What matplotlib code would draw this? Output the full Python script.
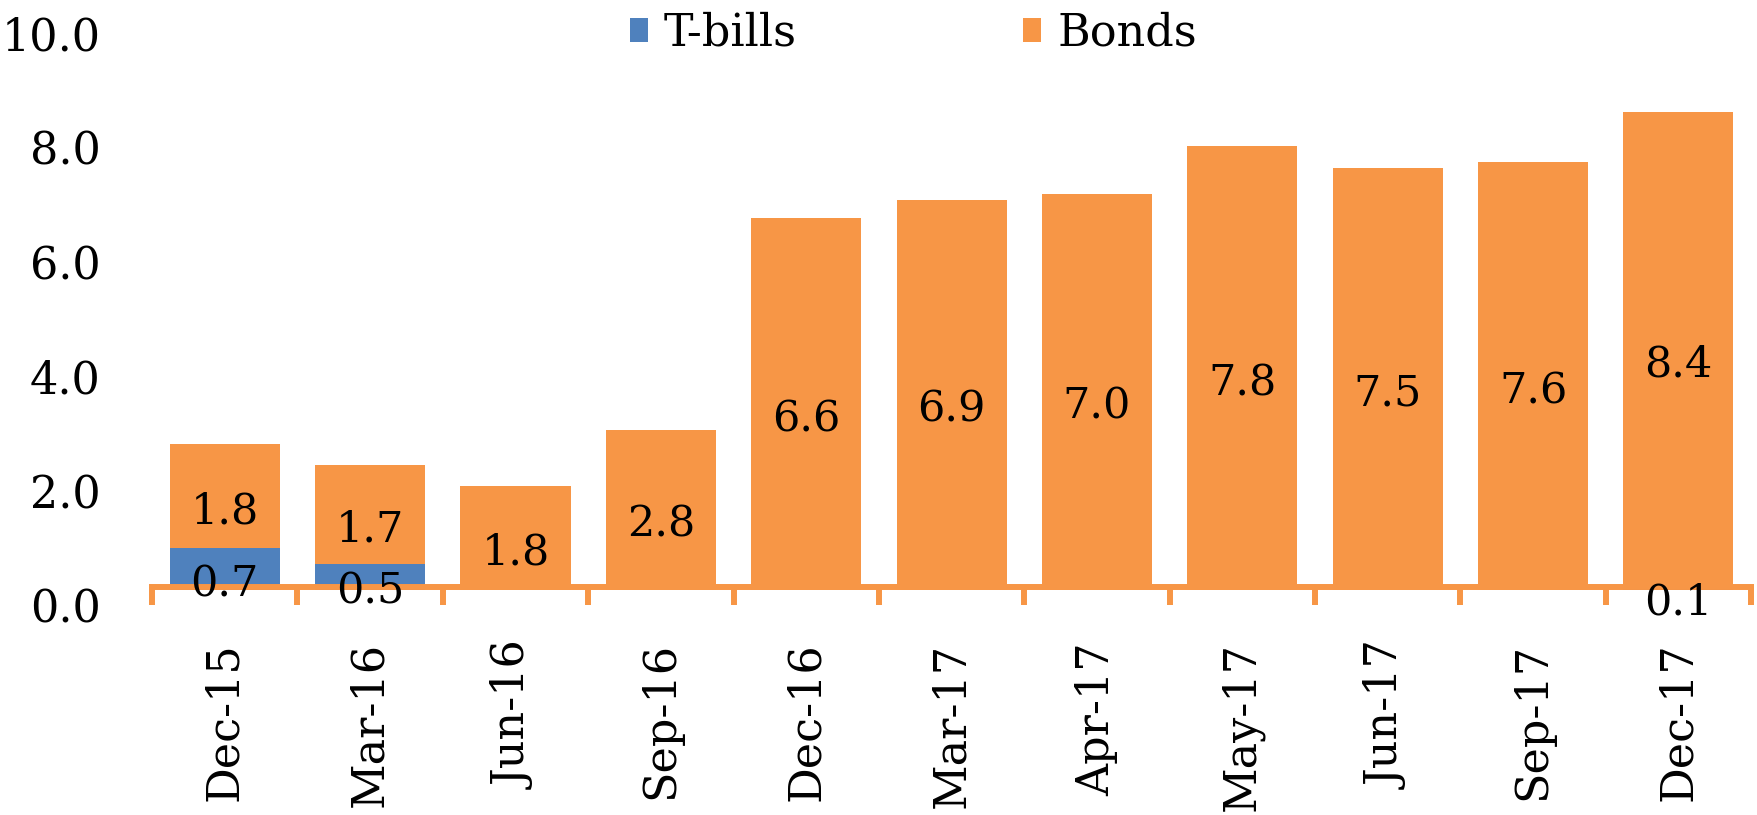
import matplotlib
matplotlib.use("Agg")
import matplotlib.pyplot as plt
from matplotlib.transforms import ScaledTranslation
from matplotlib.patches import Patch
import numpy as np

categories = ["Dec-15", "Mar-16", "Jun-16", "Sep-16", "Dec-16", "Mar-17",
              "Apr-17", "May-17", "Jun-17", "Sep-17", "Dec-17"]
tbills = [0.74, 0.46, 0.0, 0.0, 0.0, 0.0, 0.0, 0.0, 0.0, 0.0, 0.07]
bonds = [1.84, 1.74, 1.84, 2.83, 6.57, 6.89, 7.0, 7.84, 7.46, 7.56, 8.37]
yticks = [0.0, 2.0, 4.0, 6.0, 8.0, 10.0]

BLUE = "#4F81BD"
ORANGE = "#F79646"
FONT = "DejaVu Serif"
plt.rcParams["font.family"] = [FONT, "DejaVu Sans"]

fig = plt.figure(figsize=(17.58, 8.15), dpi=100)
ax = fig.add_axes([0.0865, 0.2761, 0.9096, 0.6945])

x = np.arange(len(categories))
w = 0.757
ax.bar(x, tbills, width=w, color=BLUE, zorder=2)
ax.bar(x, bonds, width=w, bottom=tbills, color=ORANGE, zorder=2)

# value labels
for i in range(len(categories)):
    if tbills[i] > 0:
        ax.annotate(f"{tbills[i]:.1f}", (x[i], tbills[i] / 2), xytext=(0, -15),
                    textcoords="offset pixels", ha="center", va="center",
                    fontsize=31, color="black", zorder=5)
    if bonds[i] > 0:
        ax.annotate(f"{bonds[i]:.1f}", (x[i], tbills[i] + bonds[i] / 2), xytext=(0, -15),
                    textcoords="offset pixels", ha="center", va="center",
                    fontsize=31, color="black", zorder=5)

ax.set_xlim(-0.5, len(categories) - 0.5)
ax.set_ylim(0, 10)

for s in ["top", "right", "left"]:
    ax.spines[s].set_visible(False)
ax.spines["bottom"].set_color(ORANGE)
ax.spines["bottom"].set_linewidth(4.3)
ax.spines["bottom"].set_zorder(4)
ax.spines["bottom"].set_position(("data", 0.055))

ax.set_xticks(x)
ax.set_xticklabels(categories, rotation=90, fontsize=32)
ax.set_xticks(np.arange(-0.5, len(categories), 1.0), minor=True)
ax.tick_params(axis="x", which="major", length=0, pad=40)
ax.tick_params(axis="x", which="minor", length=13, width=4.3, color=ORANGE, direction="out")

ax.set_yticks(yticks)
ax.set_yticklabels([f"{v:.1f}" for v in yticks], fontsize=32)
ax.tick_params(axis="y", length=0, pad=37)
for tick, v in zip(ax.yaxis.get_major_ticks(), yticks):
    off = (15.5 - 0.6 * v) / 100.0
    tick.label1.set_transform(tick.label1.get_transform() +
                              ScaledTranslation(0, -off, fig.dpi_scale_trans))

handles = [Patch(facecolor=BLUE, edgecolor="none", label="T-bills"),
           Patch(facecolor=ORANGE, edgecolor="none", label="Bonds")]
fig.legend(handles=handles, loc="center left", bbox_to_anchor=(630 / 1758, 1 - 33 / 815),
           ncol=2, frameon=False, fontsize=32, handlelength=0.4, handleheight=0.45,
           handletextpad=0.36, columnspacing=5.1, borderaxespad=0, borderpad=0)

fig.savefig("out.png", dpi=100)
